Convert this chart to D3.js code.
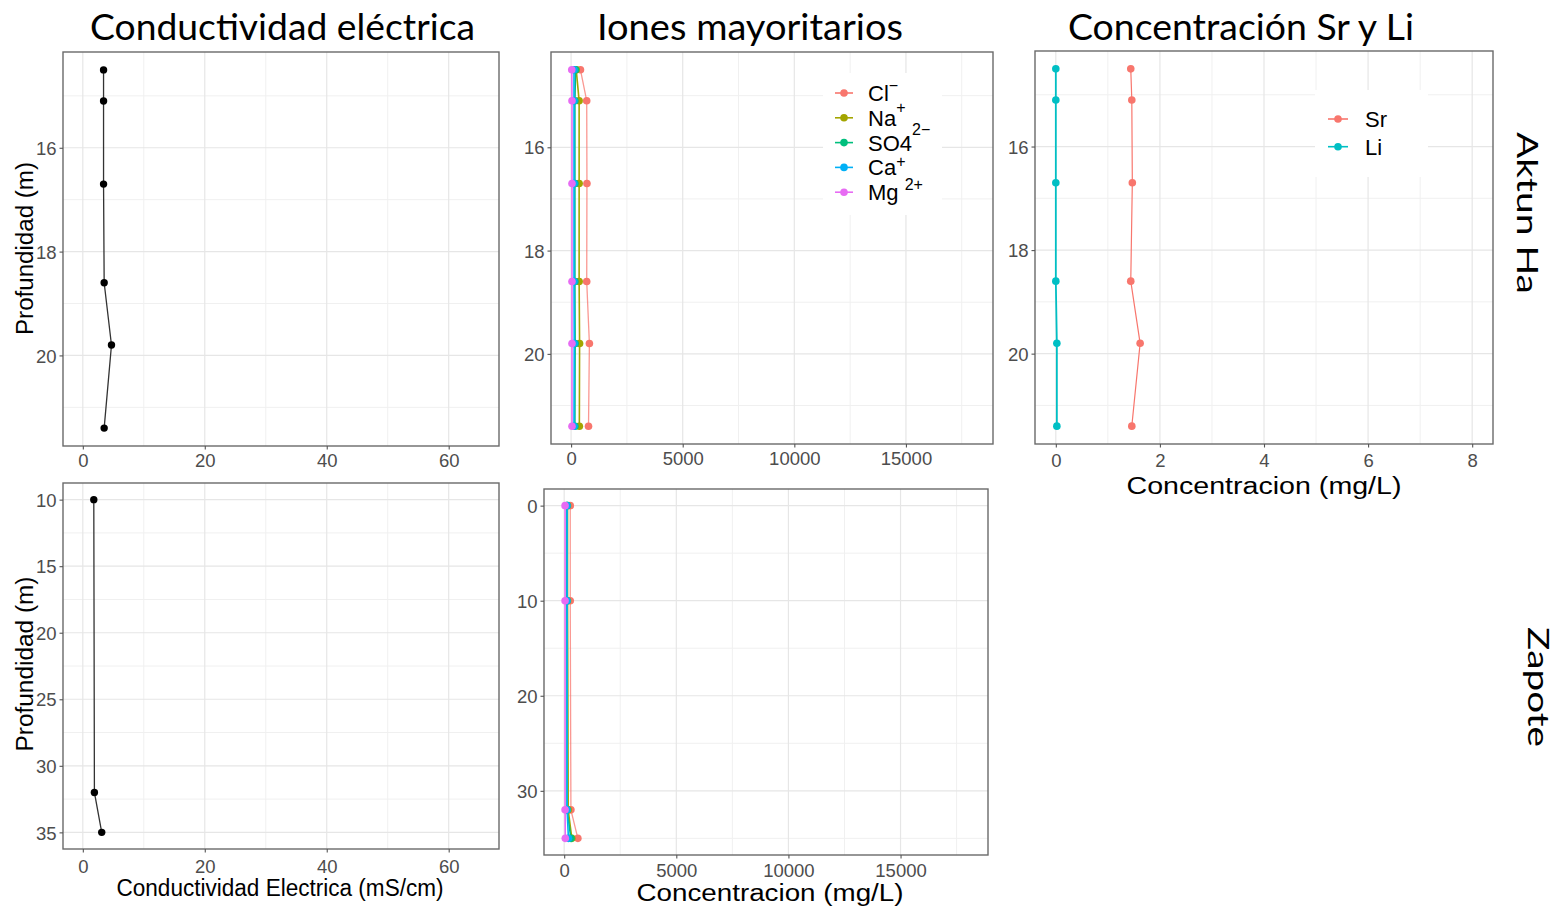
<!DOCTYPE html>
<html>
<head>
<meta charset="utf-8">
<script src="https://cdn.jsdelivr.net/npm/d3@7/dist/d3.min.js"></script>
<style>
  body { margin: 0; background: #fff; }
  svg { display: block; font-family: "Liberation Sans", Arial, sans-serif; }
</style>
</head>
<body>
<svg id="chart" width="1562" height="909"></svg>
<script>
// ---- data ----
const AKTUN_DEPTH = [14.5, 15.1, 16.7, 18.6, 19.8, 21.4];
const AKTUN_CE = [3.4, 3.4, 3.4, 3.5, 4.7, 3.5];
const AKTUN_CL = [420, 700, 710, 700, 820, 780];
const AKTUN_NA = [230, 360, 360, 360, 380, 370];
const AKTUN_SO4 = [200, 170, 170, 170, 180, 170];
const AKTUN_CA = [130, 130, 130, 130, 140, 130];
const AKTUN_MG = [30, 40, 40, 40, 40, 40];
const AKTUN_SR = [1.44, 1.46, 1.47, 1.44, 1.62, 1.46];
const AKTUN_LI = [0.0, 0.0, 0.0, 0.0, 0.02, 0.02];

const ZAPOTE_CE_DEPTH = [10, 32, 35];
const ZAPOTE_CE = [1.8, 1.9, 3.1];
const ZAPOTE_ION_DEPTH = [0, 10, 32, 35];
const ZAPOTE_CL = [270, 270, 300, 610];
const ZAPOTE_NA = [150, 150, 180, 340];
const ZAPOTE_SO4 = [120, 120, 130, 300];
const ZAPOTE_CA = [130, 130, 130, 190];
const ZAPOTE_MG = [40, 40, 40, 50];

const ION_LABELS = [["Cl", "\u2212"], ["Na", "+"], ["SO4", "2\u2212"], ["Ca", "+"], ["Mg ", "2+"]];
const ION_COLORS = ["#F8766D", "#A3A500", "#00BF7D", "#00B0F6", "#E76BF3"];
const TRACE_LABELS = ["Sr", "Li"];
const TRACE_COLORS = ["#F8766D", "#00BFC4"];

const CE_LIMITS = [0, 65];
const ION_LIMITS = [0, 18000];
const TRACE_LIMITS = [0, 8];
const CE_TICKS = [0, 20, 40, 60];
const ION_TICKS = [0, 5000, 10000, 15000];
const TRACE_TICKS = [0, 2, 4, 6, 8];
const AKTUN_DEPTH_TICKS = [16, 18, 20];
const ZAPOTE_CE_DEPTH_TICKS = [10, 15, 20, 25, 30, 35];
const ZAPOTE_ION_DEPTH_TICKS = [0, 10, 20, 30];

const svg = d3.select("#chart");

// ggplot-style 5% expansion
function expand([a, b]) {
  const pad = (b - a) * 0.05;
  return [a - pad, b + pad];
}

function minorBetween(ticks, domain) {
  const step = ticks[1] - ticks[0];
  const out = [];
  for (let t = ticks[0] - step / 2; t <= domain[1]; t += step) {
    if (t >= domain[0]) out.push(t);
  }
  return out;
}

function toSeries(depths, values) {
  return depths.map((d, i) => ({ depth: d, v: values[i] }));
}

function drawPanel(box, cfg) {
  const g = svg.append("g").attr("transform", `translate(${box.x},${box.y})`);
  const xDom = expand(cfg.xLimits);
  const yDom = expand(d3.extent(cfg.depths));
  const x = d3.scaleLinear().domain(xDom).range([0, box.w]);
  const y = d3.scaleLinear().domain(yDom).range([0, box.h]);

  // grid
  g.selectAll(".xminor").data(minorBetween(cfg.xTicks, xDom)).join("line")
    .attr("x1", d => x(d)).attr("x2", d => x(d)).attr("y1", 0).attr("y2", box.h)
    .attr("stroke", "#f0f0f0").attr("stroke-width", 1);
  g.selectAll(".yminor").data(minorBetween(cfg.yTicks, yDom)).join("line")
    .attr("y1", d => y(d)).attr("y2", d => y(d)).attr("x1", 0).attr("x2", box.w)
    .attr("stroke", "#f0f0f0").attr("stroke-width", 1);
  g.selectAll(".xmajor").data(cfg.xTicks).join("line")
    .attr("x1", d => x(d)).attr("x2", d => x(d)).attr("y1", 0).attr("y2", box.h)
    .attr("stroke", "#e6e6e6").attr("stroke-width", 1.2);
  g.selectAll(".ymajor").data(cfg.yTicks).join("line")
    .attr("y1", d => y(d)).attr("y2", d => y(d)).attr("x1", 0).attr("x2", box.w)
    .attr("stroke", "#e6e6e6").attr("stroke-width", 1.2);

  // legend background hides the grid below it
  if (cfg.legend) {
    const L = cfg.legend;
    g.append("rect").attr("x", L.x - box.x).attr("y", L.y - box.y)
      .attr("width", L.w).attr("height", L.h).attr("fill", "#fff");
  }

  // series
  const line = d3.line().x(d => x(d.v)).y(d => y(d.depth));
  cfg.series.forEach(s => {
    const pts = toSeries(cfg.depths, s.values);
    g.append("path").datum(pts).attr("d", line)
      .attr("fill", "none").attr("stroke", s.color).attr("stroke-width", s.width || 1.4)
      .attr("stroke-opacity", s.opacity || 1);
    g.selectAll(null).data(pts).join("circle")
      .attr("cx", d => x(d.v)).attr("cy", d => y(d.depth))
      .attr("r", s.r || 3.8).attr("fill", s.pointColor || s.color);
  });

  // border
  g.append("rect").attr("width", box.w).attr("height", box.h)
    .attr("fill", "none").attr("stroke", "#6a6a6a").attr("stroke-width", 1.4);

  // axes
  const xAxis = d3.axisBottom(x).tickValues(cfg.xTicks).tickSize(3.5).tickPadding(4).tickFormat(d3.format("d"));
  const ax = g.append("g").attr("transform", `translate(0,${box.h})`).call(xAxis);
  const yAxis = d3.axisLeft(y).tickValues(cfg.yTicks).tickSize(3.5).tickPadding(3).tickFormat(d3.format("d"));
  const ay = g.append("g").call(yAxis);
  [ax, ay].forEach(a => {
    a.select(".domain").remove();
    a.selectAll(".tick line").attr("stroke", "#555").attr("stroke-width", 1.1);
    a.selectAll(".tick text").attr("fill", "#4d4d4d")
      .style("font-size", "18.5px").style("font-family", "'Liberation Sans', Arial, sans-serif");
  });
  ax.selectAll(".tick text").attr("dy", null).attr("y", cfg.xLabelOffset)
    .attr("dominant-baseline", "alphabetic");
  ay.selectAll(".tick text").attr("dy", "0.36em");
  return g;
}

function ionSeries(cl, na, so4, ca, mg) {
  return [cl, na, so4, ca, mg].map((values, i) => ({
    values, color: ION_COLORS[i], width: i === 0 ? 1.3 : 1.6, opacity: i === 0 ? 0.75 : 1
  }));
}

// ---- top row: Aktun Ha ----
drawPanel({ x: 63, y: 52, w: 436, h: 394 }, {
  xLimits: CE_LIMITS, xTicks: CE_TICKS, yTicks: AKTUN_DEPTH_TICKS, depths: AKTUN_DEPTH,
  xLabelOffset: 21,
  series: [{ values: AKTUN_CE, color: "#333", pointColor: "#000", width: 1.3, r: 3.7 }]
});

const ionLegend = { x: 823, y: 73, w: 119, h: 142 };
drawPanel({ x: 551, y: 52, w: 442, h: 392 }, {
  xLimits: ION_LIMITS, xTicks: ION_TICKS, yTicks: AKTUN_DEPTH_TICKS, depths: AKTUN_DEPTH,
  xLabelOffset: 21, legend: ionLegend,
  series: ionSeries(AKTUN_CL, AKTUN_NA, AKTUN_SO4, AKTUN_CA, AKTUN_MG)
});

const traceLegend = { x: 1315, y: 90, w: 113, h: 87 };
drawPanel({ x: 1035, y: 51, w: 458, h: 393 }, {
  xLimits: TRACE_LIMITS, xTicks: TRACE_TICKS, yTicks: AKTUN_DEPTH_TICKS, depths: AKTUN_DEPTH,
  xLabelOffset: 22.5, legend: traceLegend,
  series: [AKTUN_SR, AKTUN_LI].map((values, i) => ({ values, color: TRACE_COLORS[i], width: i ? 1.8 : 1.2 }))
});

// ---- bottom row: Zapote ----
drawPanel({ x: 63, y: 483, w: 436, h: 366 }, {
  xLimits: CE_LIMITS, xTicks: CE_TICKS, yTicks: ZAPOTE_CE_DEPTH_TICKS, depths: ZAPOTE_CE_DEPTH,
  xLabelOffset: 23.5,
  series: [{ values: ZAPOTE_CE, color: "#333", pointColor: "#000", width: 1.3, r: 3.7 }]
});

drawPanel({ x: 544, y: 489, w: 444, h: 366 }, {
  xLimits: ION_LIMITS, xTicks: ION_TICKS, yTicks: ZAPOTE_ION_DEPTH_TICKS, depths: ZAPOTE_ION_DEPTH,
  xLabelOffset: 22,
  series: ionSeries(ZAPOTE_CL, ZAPOTE_NA, ZAPOTE_SO4, ZAPOTE_CA, ZAPOTE_MG)
});

// ---- legends ----
const supShift = [-10, -13, -16, -8, -10];
const ionKeys = svg.append("g").attr("transform", "translate(835,93)");
ION_LABELS.forEach(([base, sup], i) => {
  const row = ionKeys.append("g").attr("transform", `translate(0,${i * 24.8})`);
  row.append("line").attr("x1", 0).attr("x2", 18).attr("stroke", ION_COLORS[i]).attr("stroke-width", 1.6);
  row.append("circle").attr("cx", 9).attr("r", 3.8).attr("fill", ION_COLORS[i]);
  const t = row.append("text").attr("x", 33).attr("y", 8).style("font-size", "22px").attr("fill", "#000");
  t.append("tspan").text(base);
  t.append("tspan").attr("dy", supShift[i]).style("font-size", "16px").text(sup);
});

const traceKeys = svg.append("g").attr("transform", "translate(1328,119)");
TRACE_LABELS.forEach((label, i) => {
  const row = traceKeys.append("g").attr("transform", `translate(0,${i * 27.7})`);
  row.append("line").attr("x1", 0).attr("x2", 20).attr("stroke", TRACE_COLORS[i]).attr("stroke-width", 1.6);
  row.append("circle").attr("cx", 10).attr("r", 3.8).attr("fill", TRACE_COLORS[i]);
  row.append("text").attr("x", 37).attr("y", 8).style("font-size", "22px").attr("fill", "#000").text(label);
});

// ---- titles and axis titles ----
function label(text, x, y, opts) {
  const t = svg.append("text")
    .attr("transform", `translate(${x},${y}) rotate(${opts.rotate || 0})`)
    .attr("text-anchor", "middle")
    .style("font-size", opts.size + "px")
    .style("font-family", opts.font || "'Liberation Sans', Arial, sans-serif")
    .attr("fill", "#000")
    .text(text);
  if (opts.len) t.attr("textLength", opts.len).attr("lengthAdjust", "spacingAndGlyphs");
  return t;
}

const TITLE_FONT = "Lato, 'Open Sans', sans-serif";
label("Conductividad eléctrica", 282.5, 39.5, { size: 36, len: 385, font: TITLE_FONT });
label("Iones mayoritarios", 750, 39.5, { size: 36, len: 306, font: TITLE_FONT });
label("Concentración Sr y Li", 1241, 39.5, { size: 36, len: 346, font: TITLE_FONT });
label("Aktun Ha", 1517, 213, { size: 29, len: 162, rotate: 90, font: TITLE_FONT });
label("Zapote", 1528, 687, { size: 29, len: 120, rotate: 90, font: TITLE_FONT });

label("Profundidad (m)", 32.5, 248.5, { size: 23.5, len: 173, rotate: -90 });
label("Profundidad (m)", 32.5, 664, { size: 23.5, len: 175, rotate: -90 });
label("Concentracion (mg/L)", 1264, 493.5, { size: 23, len: 275 });
label("Conductividad Electrica (mS/cm)", 280, 896, { size: 23, len: 327 });
label("Concentracion (mg/L)", 770, 901, { size: 23, len: 267 });
</script>
</body>
</html>
